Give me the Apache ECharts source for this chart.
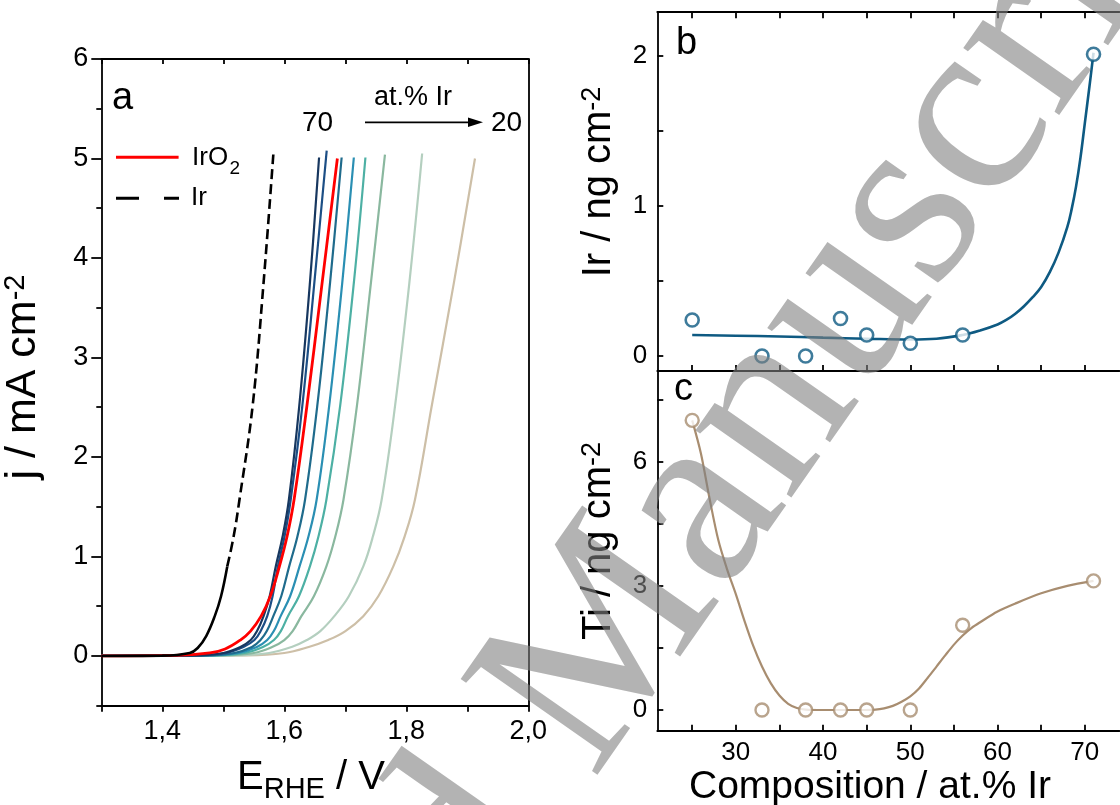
<!DOCTYPE html>
<html>
<head>
<meta charset="utf-8">
<script src="https://cdn.jsdelivr.net/npm/echarts@6/dist/echarts.min.js"></script>
<style>
  html, body { margin: 0; padding: 0; background: #fff; }
  #main { width: 1120px; height: 805px; }
</style>
</head>
<body>
<div id="main"></div>
<script>
// ---- (a) polarisation curves: [E_RHE / V, j / mA cm-2] ----
const lsvAt71 = [[1.30,0],[1.45,0.005],[1.50,0.03],[1.528,0.09],[1.545,0.16],[1.5553,0.25],[1.566,0.40],[1.576,0.60],[1.586,0.90],[1.5972,1.20],[1.6075,1.57],[1.6245,2.51],[1.642,3.75],[1.657,5.01]];
const lsvAt56 = [[1.30,0],[1.46,0.005],[1.505,0.03],[1.533,0.09],[1.551,0.16],[1.5613,0.25],[1.572,0.40],[1.5808,0.60],[1.5895,0.90],[1.6004,1.20],[1.6105,1.57],[1.6295,2.51],[1.650,3.80],[1.6695,5.08]];
const lsvAt50 = [[1.30,0],[1.47,0.005],[1.518,0.03],[1.547,0.09],[1.561,0.16],[1.5713,0.25],[1.582,0.40],[1.595,0.60],[1.608,0.90],[1.6215,1.20],[1.634,1.57],[1.654,2.51],[1.675,3.75],[1.694,5.01]];
const lsvAt45 = [[1.30,0],[1.48,0.005],[1.525,0.03],[1.555,0.09],[1.572,0.16],[1.5828,0.25],[1.594,0.40],[1.6095,0.60],[1.625,0.90],[1.6396,1.20],[1.653,1.57],[1.6735,2.51],[1.695,3.75],[1.714,5.01]];
const lsvAt42 = [[1.30,0],[1.49,0.005],[1.535,0.03],[1.565,0.09],[1.583,0.16],[1.5943,0.25],[1.606,0.40],[1.624,0.60],[1.642,0.90],[1.656,1.20],[1.669,1.57],[1.6915,2.51],[1.714,3.75],[1.733,5.01]];
const lsvAt38 = [[1.30,0],[1.50,0.005],[1.55,0.03],[1.58,0.09],[1.60,0.16],[1.6137,0.25],[1.628,0.40],[1.6485,0.60],[1.669,0.90],[1.6836,1.20],[1.697,1.57],[1.719,2.51],[1.742,3.75],[1.765,5.04]];
const lsvAt33 = [[1.30,0],[1.52,0.005],[1.575,0.03],[1.612,0.09],[1.637,0.16],[1.659,0.25],[1.682,0.40],[1.7058,0.60],[1.7295,0.90],[1.7452,1.20],[1.7596,1.57],[1.7815,2.51],[1.805,3.75],[1.826,5.05]];
const lsvAt25 = [[1.30,0],[1.54,0.005],[1.60,0.03],[1.64,0.09],[1.672,0.16],[1.7002,0.25],[1.7295,0.40],[1.7541,0.60],[1.7787,0.90],[1.7972,1.20],[1.8142,1.57],[1.8416,2.51],[1.878,3.75],[1.9126,5.00]];
const lsvIrO2 = [[1.30,0],[1.42,0.005],[1.478,0.03],[1.503,0.07],[1.528,0.16],[1.5447,0.25],[1.562,0.40],[1.577,0.60],[1.592,0.90],[1.6045,1.20],[1.616,1.57],[1.637,2.51],[1.661,3.70],[1.687,5.00]];
const lsvIr   = [[1.30,0],[1.40,0.003],[1.445,0.03],[1.458,0.08],[1.472,0.20],[1.486,0.40],[1.4963,0.60],[1.5065,0.90],[1.5169,1.20],[1.5265,1.57],[1.548,2.51],[1.566,3.75],[1.582,5.04]];
// the Ir trace looks continuous below about 0.9 mA cm-2
const irSolidEnd = 8;

const filmCurves = [lsvAt25, lsvAt33, lsvAt38, lsvAt42, lsvAt45, lsvAt50, lsvAt56, lsvAt71];
const filmColors = ['#cdbfa7', '#b4cfbf', '#8ab89f', '#4db0a4', '#2a8fb3', '#1f6b8c', '#1c4e85', '#17375f'];

// ---- (b), (c) dissolved amounts vs. composition ----
const composition = [25, 33, 38, 42, 45, 50, 56, 71];
const irDissolved = [0.24, 0, 0, 0.25, 0.14, 0.085, 0.14, 2.01];
const tiDissolved = [7.0, 0, 0, 0, 0, 0, 2.05, 3.12];
const irTrend = [[25,0.14],[30,0.135],[35,0.13],[40,0.122],[45,0.115],[50,0.11],[53,0.115],[56,0.14],[58,0.17],[60,0.21],[61,0.24],[62,0.28],[63,0.33],[64,0.39],[65,0.46],[66,0.56],[67,0.69],[68,0.86],[68.5,0.98],[69,1.13],[69.5,1.32],[70,1.55],[70.5,1.78],[71,2.02]];
const tiTrend = [[25,7.0],[26,6.2],[27,5.1],[28,4.1],[29,3.4],[30,2.8],[31,2.15],[32,1.55],[33,1.05],[34,0.65],[35,0.35],[36,0.15],[37,0.05],[38,0.01],[40,0],[42,0],[44,0],[46,0.01],[47,0.04],[48,0.10],[49,0.20],[50,0.33],[51,0.52],[52,0.78],[53,1.05],[54,1.32],[55,1.58],[56,1.80],[57,1.98],[58,2.12],[60,2.38],[62,2.57],[65,2.82],[68,3.00],[71,3.12]];

// ---- tick values ----
const eLabels = [1.4, 1.6, 1.8, 2.0];
const jMajor = [0, 1, 2, 3, 4, 5, 6];
const jMinor = [-0.5, 0.5, 1.5, 2.5, 3.5, 4.5, 5.5];
const compTicks = [25, 30, 35, 40, 45, 50, 55, 60, 65, 70];
const compLabels = [30, 40, 50, 60, 70];
const irTicks = [0, 0.5, 1, 1.5, 2];
const irLabels = [0, 1, 2];
const tiTicks = [0, 1.5, 3, 4.5, 6, 7.5];
const tiLabels = [0, 3, 6];

const SANS = '"Liberation Sans", Arial, sans-serif';
const SERIF = '"Liberation Serif", "Times New Roman", serif';
const IR_COLOR = '#0e5a82';
const TI_COLOR = '#a88d70';
const AX = { color: '#000', width: 1.8 };

function axisBase(extra) {
  return Object.assign({
    type: 'value',
    splitLine: { show: false },
    axisLine: { show: true, onZero: false, lineStyle: AX },
    axisTick: { show: false },
    axisLabel: { show: false }
  }, extra);
}
const labelStyle = { color: '#000', fontFamily: SANS, fontSize: 27 };

const chart = echarts.init(document.getElementById('main'), null, { renderer: 'canvas' });

const series = [];
filmCurves.forEach((d, i) => {
  series.push({
    type: 'line', xAxisIndex: 0, yAxisIndex: 0, data: d,
    smooth: 0.4, showSymbol: false, silent: true,
    lineStyle: { color: filmColors[i], width: 2.2 }, z: 2 + i
  });
});
series.push({
  type: 'line', xAxisIndex: 0, yAxisIndex: 0, data: lsvIrO2,
  smooth: 0.4, showSymbol: false,
  lineStyle: { color: '#ff0000', width: 2.8 }, z: 12
});
series.push({
  type: 'line', xAxisIndex: 0, yAxisIndex: 0, data: lsvIr.slice(0, irSolidEnd),
  smooth: 0.4, showSymbol: false,
  lineStyle: { color: '#000', width: 2.6 }, z: 13
});
series.push({
  type: 'line', xAxisIndex: 0, yAxisIndex: 0, data: lsvIr.slice(irSolidEnd - 1),
  smooth: 0.4, showSymbol: false,
  lineStyle: { color: '#000', width: 2.6, type: [10, 5] }, z: 13
});
series.push({
  type: 'line', xAxisIndex: 3, yAxisIndex: 3, data: irTrend,
  smooth: 0.4, showSymbol: false, lineStyle: { color: IR_COLOR, width: 2.6 }, z: 3
});
series.push({
  type: 'scatter', xAxisIndex: 3, yAxisIndex: 3,
  data: composition.map((c, i) => [c, irDissolved[i]]),
  symbol: 'circle', symbolSize: 13,
  itemStyle: { color: '#fff', borderColor: IR_COLOR, borderWidth: 2.6 }, z: 4
});
series.push({
  type: 'line', xAxisIndex: 5, yAxisIndex: 4, data: tiTrend,
  smooth: 0.3, showSymbol: false, lineStyle: { color: TI_COLOR, width: 2.2 }, z: 3
});
series.push({
  type: 'scatter', xAxisIndex: 5, yAxisIndex: 4,
  data: composition.map((c, i) => [c, tiDissolved[i]]),
  symbol: 'circle', symbolSize: 13,
  itemStyle: { color: '#fff', borderColor: TI_COLOR, borderWidth: 2.4 }, z: 4
});

const richSup = {
  m: { fontSize: 40, fontFamily: SANS, lineHeight: 40 },
  p: { fontSize: 27, fontFamily: SANS, lineHeight: 27, verticalAlign: 'top' }
};

const option = {
  animation: false,
  backgroundColor: '#fff',
  grid: [
    { left: 101.3, top: 59, width: 427, height: 646.7, outerBoundsMode: 'none' },
    { left: 101.3, top: 59, width: 427, height: 646.7, outerBoundsMode: 'none' },
    { left: 657.3, top: 12.2, width: 462.4, height: 358.8, outerBoundsMode: 'none' },
    { left: 657.3, top: 370.7, width: 462.4, height: 360, outerBoundsMode: 'none' }
  ],
  xAxis: [
    axisBase({ gridIndex: 0, min: 1.3, max: 2.0, interval: 0.1, position: 'bottom',
      axisTick: { show: true, inside: false, length: 6, lineStyle: AX },
      axisLabel: Object.assign({ show: true, customValues: eLabels, margin: 12,
        formatter: v => v.toFixed(1).replace('.', ',') }, labelStyle) }),
    axisBase({ gridIndex: 0, min: 1.3, max: 2.0, interval: 0.1, position: 'top',
      axisTick: { show: true, inside: true, length: 5, lineStyle: AX } }),
    { gridIndex: 1, type: 'value', min: 1.3, max: 2.0, show: false },
    axisBase({ gridIndex: 2, min: 21, max: 74, position: 'bottom',
      axisTick: { show: true, inside: true, length: 6, customValues: compTicks, lineStyle: AX } }),
    axisBase({ gridIndex: 2, min: 21, max: 74, position: 'top',
      axisTick: { show: true, inside: true, length: 6, customValues: compTicks, lineStyle: AX } }),
    axisBase({ gridIndex: 3, min: 21, max: 74, position: 'bottom',
      axisTick: { show: true, inside: true, length: 6, customValues: compTicks, lineStyle: AX },
      axisLabel: Object.assign({ show: true, customValues: compLabels, margin: 9 }, labelStyle, { fontSize: 26 }) })
  ],
  yAxis: [
    axisBase({ gridIndex: 0, min: -0.5, max: 6, position: 'left',
      axisTick: { show: true, inside: false, length: 10, customValues: jMajor, lineStyle: AX },
      axisLabel: Object.assign({ show: true, customValues: jMajor, margin: 13 }, labelStyle) }),
    axisBase({ gridIndex: 0, min: -0.5, max: 6, position: 'right' }),
    axisBase({ gridIndex: 1, min: -0.5, max: 6, position: 'left',
      axisLine: { show: false, onZero: false },
      axisTick: { show: true, inside: false, length: 5, customValues: jMinor, lineStyle: AX } }),
    axisBase({ gridIndex: 2, min: -0.1, max: 2.29, position: 'left',
      axisTick: { show: true, inside: true, length: 6, customValues: irTicks, lineStyle: AX },
      axisLabel: Object.assign({ show: true, customValues: irLabels, margin: 10 }, labelStyle, { fontSize: 26 }) }),
    axisBase({ gridIndex: 3, min: -0.5, max: 8.2, position: 'left',
      axisTick: { show: true, inside: true, length: 6, customValues: tiTicks, lineStyle: AX },
      axisLabel: Object.assign({ show: true, customValues: tiLabels, margin: 10 }, labelStyle, { fontSize: 26 }) })
  ],
  series: series,
  graphic: [
    // panel letters
    { type: 'text', x: 112, y: 98.8, style: { text: 'a', font: '38px ' + SANS, fill: '#000', textVerticalAlign: 'middle' } },
    { type: 'text', x: 676, y: 43.8, style: { text: 'b', font: '38px ' + SANS, fill: '#000', textVerticalAlign: 'middle' } },
    { type: 'text', x: 674, y: 390, style: { text: 'c', font: '38px ' + SANS, fill: '#000', textVerticalAlign: 'middle' } },
    // composition direction note
    { type: 'text', x: 302, y: 123.3, style: { text: '70', font: '28px ' + SANS, fill: '#000', textVerticalAlign: 'middle' } },
    { type: 'text', x: 491, y: 123.3, style: { text: '20', font: '28px ' + SANS, fill: '#000', textVerticalAlign: 'middle' } },
    { type: 'text', x: 374, y: 97.6, style: { text: 'at.% Ir', font: '27px ' + SANS, fill: '#000', textVerticalAlign: 'middle' } },
    { type: 'line', shape: { x1: 365, y1: 122.3, x2: 470, y2: 122.3 }, style: { stroke: '#000', lineWidth: 1.8 } },
    { type: 'polygon', shape: { points: [[468, 117.5], [483, 122.3], [468, 127.1]] }, style: { fill: '#000' } },
    // legend
    { type: 'line', shape: { x1: 116, y1: 157.3, x2: 178.6, y2: 157.3 }, style: { stroke: '#ff0000', lineWidth: 3 } },
    { type: 'text', x: 192, y: 157.7, style: { text: 'IrO', font: '26px ' + SANS, fill: '#000', textVerticalAlign: 'middle' } },
    { type: 'text', x: 229.5, y: 168.4, style: { text: '2', font: '19px ' + SANS, fill: '#000', textVerticalAlign: 'middle' } },
    { type: 'line', shape: { x1: 116, y1: 198.3, x2: 179, y2: 198.3 }, style: { stroke: '#000', lineWidth: 3, lineDash: [23, 25] } },
    { type: 'text', x: 191, y: 197.7, style: { text: 'Ir', font: '26px ' + SANS, fill: '#000', textVerticalAlign: 'middle' } },
    // axis titles
    { type: 'text', x: 237, y: 777.8, style: { text: 'E', font: '40px ' + SANS, fill: '#000', textVerticalAlign: 'middle' } },
    { type: 'text', x: 263.7, y: 790, style: { text: 'RHE', font: '29px ' + SANS, fill: '#000', textVerticalAlign: 'middle' } },
    { type: 'text', x: 324.9, y: 777.8, style: { text: ' / V', font: '40px ' + SANS, fill: '#000', textVerticalAlign: 'middle' } },
    { type: 'text', x: 870, y: 787, style: { text: 'Composition / at.% Ir', font: '39px ' + SANS, fill: '#000', textAlign: 'center', textVerticalAlign: 'middle' } },
    { type: 'text', x: 23, y: 377, rotation: Math.PI / 2,
      style: { text: '{m|j / mA cm}{p|-2}', fill: '#000', textAlign: 'center', textVerticalAlign: 'middle',
        rich: { m: { fontSize: 43, fontFamily: SANS, lineHeight: 43 }, p: { fontSize: 29, fontFamily: SANS, lineHeight: 29, verticalAlign: 'top' } } } },
    { type: 'text', x: 599, y: 182, rotation: Math.PI / 2,
      style: { text: '{m|Ir / ng cm}{p|-2}', fill: '#000', textAlign: 'center', textVerticalAlign: 'middle', rich: richSup } },
    { type: 'text', x: 599, y: 541, rotation: Math.PI / 2,
      style: { text: '{m|Ti / ng cm}{p|-2}', fill: '#000', textAlign: 'center', textVerticalAlign: 'middle', rich: richSup } },
    // publisher stamp across the figure
    { type: 'text', x: 577, y: 687, rotation: 55 * Math.PI / 180, z: 100, silent: true,
      style: { text: 'Accepted Manuscript', font: '255px ' + SERIF, fill: 'rgba(128,128,128,0.6)', textAlign: 'center', textVerticalAlign: 'middle' } }
  ]
};
chart.setOption(option);
</script>
</body>
</html>
